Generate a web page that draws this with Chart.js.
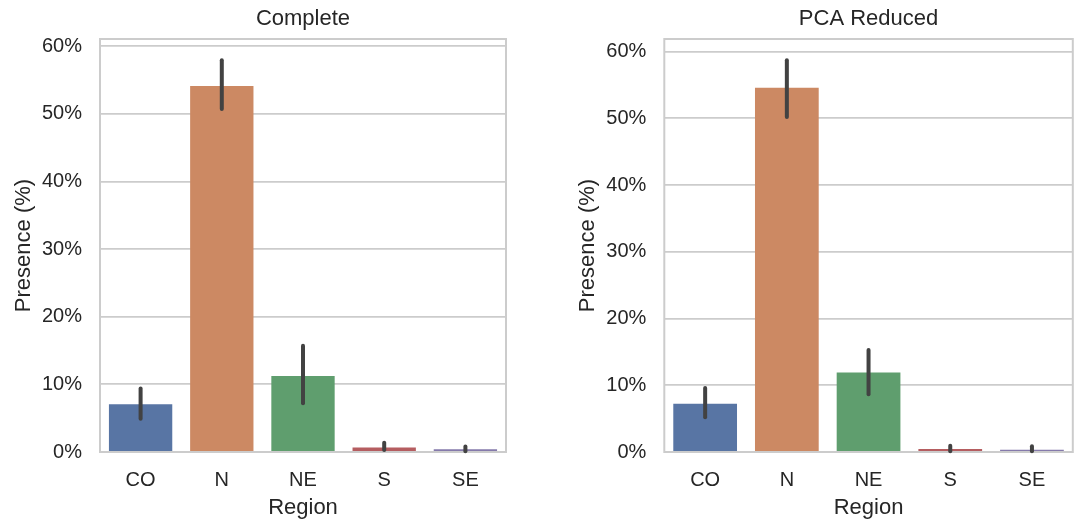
<!DOCTYPE html>
<html>
<head>
<meta charset="utf-8">
<script src="https://cdn.jsdelivr.net/npm/chart.js@4/dist/chart.umd.min.js"></script>
<style>
    html, body { margin: 0; padding: 0; background: #ffffff; }
    #wrap { position: relative; width: 1076px; height: 524px; overflow: hidden; }
    canvas { position: absolute; top: 0; }
    #left-chart { left: 0; }
    #right-chart { left: 540px; }
</style>
</head>
<body>
<div id="wrap">
    <canvas id="left-chart" width="540" height="524"></canvas>
    <canvas id="right-chart" width="536" height="524"></canvas>
</div>
<script>
// Presence (%) per region, mean with confidence interval

const regions = ['CO', 'N', 'NE', 'S', 'SE'];
const yTicks = [0, 10, 20, 30, 40, 50, 60];

const completeMean = [7.05, 54.1, 11.25, 0.65, 0.4];
const completeLow  = [4.9, 50.7, 7.2, 0.3, 0.1];
const completeHigh = [9.4, 57.9, 15.7, 1.35, 0.8];

const pcaMean = [7.25, 54.6, 11.9, 0.45, 0.35];
const pcaLow  = [5.2, 50.2, 8.65, 0.1, 0.1];
const pcaHigh = [9.6, 58.7, 15.3, 0.95, 0.85];

const barColors = ['#5875a4', '#cc8963', '#5f9e6e', '#b55d60', '#857aab'];

const FONT = "'Liberation Sans', Arial, Helvetica, sans-serif";
const TEXT = '#262626';
const GRID = '#cccccc';

/**
 * Cornice completa attorno all'area del grafico + barre di errore
 */
const frameAndErrors = {
    id: 'frameAndErrors',
    afterDatasetsDraw(chart, args, opts) {
        const { ctx, chartArea: a, scales: { x, y } } = chart;
        ctx.save();
        ctx.strokeStyle = GRID;
        ctx.lineWidth = 2;
        ctx.strokeRect(a.left, a.top, a.right - a.left, a.bottom - a.top);

        ctx.strokeStyle = '#424242';
        ctx.lineWidth = 4;
        ctx.lineCap = 'round';
        opts.low.forEach((lo, i) => {
            const px = x.getPixelForValue(i);
            ctx.beginPath();
            ctx.moveTo(px, y.getPixelForValue(lo));
            ctx.lineTo(px, y.getPixelForValue(opts.high[i]));
            ctx.stroke();
        });
        ctx.restore();
    }
};

function makeChart(id, title, means, low, high, cfg) {
    const ctx = document.getElementById(id);
    return new Chart(ctx, {
        type: 'bar',
        data: {
            labels: regions,
            datasets: [{
                data: means,
                backgroundColor: barColors,
                borderWidth: 0,
                barPercentage: 0.78,
                categoryPercentage: 1.0
            }]
        },
        options: {
            responsive: false,
            animation: false,
            devicePixelRatio: 1,
            layout: {
                padding: { left: 0, right: cfg.padRight, top: 0, bottom: 0 }
            },
            plugins: {
                legend: { display: false },
                tooltip: { enabled: false },
                title: {
                    display: true,
                    text: title,
                    fullSize: false,
                    color: TEXT,
                    font: { family: FONT, size: 22, weight: 'normal' },
                    padding: { top: 6, bottom: 6.6 }
                },
                frameAndErrors: { low: low, high: high }
            },
            scales: {
                x: {
                    grid: { display: false },
                    border: { display: false },
                    ticks: {
                        color: TEXT,
                        padding: 8,
                        font: { family: FONT, size: 20 }
                    },
                    title: {
                        display: true,
                        text: 'Region',
                        color: TEXT,
                        font: { family: FONT, size: 22 },
                        padding: { top: 0, bottom: 3 }
                    },
                    afterFit: function(scale) {
                        scale.height = 72;
                    }
                },
                y: {
                    min: 0,
                    max: cfg.yMax,
                    grid: {
                        color: GRID,
                        lineWidth: 1.8,
                        drawTicks: false
                    },
                    border: { display: false },
                    afterBuildTicks: function(scale) {
                        scale.ticks = yTicks.map(v => ({ value: v }));
                    },
                    ticks: {
                        color: TEXT,
                        padding: 18,
                        font: { family: FONT, size: 20 },
                        callback: function(value) {
                            return value + '%';
                        }
                    },
                    title: {
                        display: true,
                        text: 'Presence (%)',
                        color: TEXT,
                        font: { family: FONT, size: 22 },
                        padding: { top: cfg.yTitlePad, bottom: 0 }
                    },
                    afterFit: function(scale) {
                        scale.width = cfg.yWidth;
                    }
                }
            }
        },
        plugins: [frameAndErrors]
    });
}

makeChart('left-chart', 'Complete', completeMean, completeLow, completeHigh,
    { padRight: 34, yWidth: 100, yTitlePad: 11, yMax: 61.05 });
makeChart('right-chart', 'PCA Reduced', pcaMean, pcaLow, pcaHigh,
    { padRight: 3.2, yWidth: 124.3, yTitlePad: 34.5, yMax: 61.9 });
</script>
</body>
</html>
